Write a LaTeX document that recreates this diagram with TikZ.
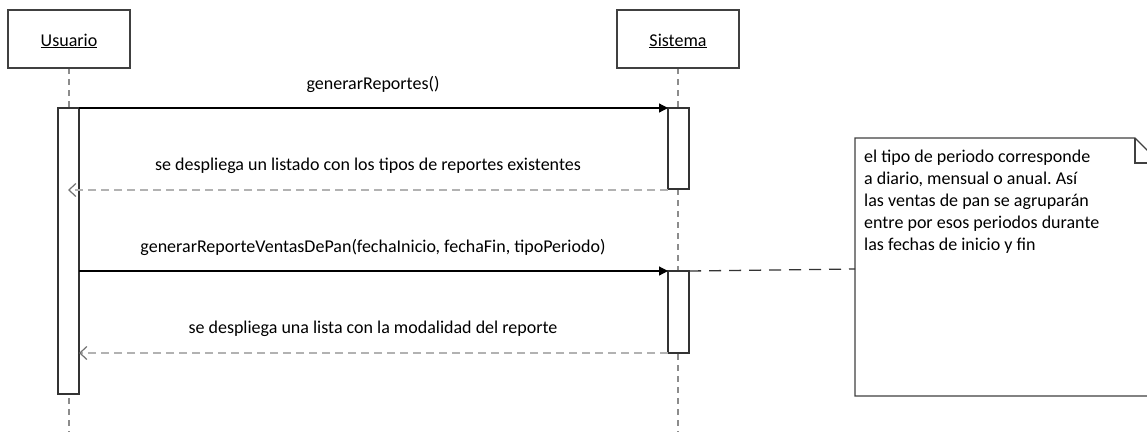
\documentclass[tikz,border=0pt]{standalone}
\usepackage{fontspec}
\setmainfont{Carlito}
\usetikzlibrary{arrows.meta}
\begin{document}
\frenchspacing
\begin{tikzpicture}[x=1pt,y=-1pt,
  every node/.style={font=\fontsize{18}{22}\selectfont, inner sep=0pt},
  obj/.style={draw=black!75, line width=1.3pt, fill=white},
  act/.style={draw=black!80, line width=1.1pt, fill=white},
  life/.style={draw=black!45, line width=1.2pt, dash pattern=on 6pt off 5pt},
  call/.style={draw=black, line width=1.2pt, -{Triangle[length=9pt,width=9pt]}},
  ret/.style={draw=black!30, line width=1.2pt, dash pattern=on 8pt off 5pt, -{Straight Barb[length=7pt,width=13pt,line width=1.2pt,black!55]}},
  notelink/.style={draw=black!80, line width=1.3pt, dash pattern=on 12pt off 8pt},
  msg/.style={anchor=base}]
\useasboundingbox (0,0) rectangle (1147,432);
\clip (0,0) rectangle (1147,432);
% lifelines
\coordinate (uTop) at (69,68);
\coordinate (uBot) at (69,432);
\coordinate (sTop) at (678,68);
\coordinate (sBot) at (678,432);
\draw[life] (uTop) -- (uBot);
\draw[life] (sTop) -- (sBot);
% objects
\path[obj] (8,10) rectangle (130,68);
\node[anchor=base] (usuario) at (69,46) {\underline{Usuario}};
\path[obj] (617,10) rectangle (739,68);
\node[anchor=base] (sistema) at (678,46) {\underline{Sistema}};
% activations
\path[act] (58,108) rectangle (79,394);
\path[act] (668,108) rectangle (689,189);
\path[act] (668,271) rectangle (689,353);
\coordinate (a1) at (79,108);
\coordinate (b1) at (668,108);
\coordinate (b2) at (668,190);
\coordinate (a2) at (68,190);
\coordinate (a3) at (79,271);
\coordinate (b3) at (668,271);
\coordinate (b4) at (668,353);
\coordinate (a4) at (79,353);
% messages
\draw[call] (a1) -- (b1);
\node[msg] (m1) at (373,89) {generarReportes()};
\draw[ret] (b2) -- (a2);
\node[msg] (m2) at (368,170) {se despliega un listado con los tipos de reportes existentes};
\draw[call] (a3) -- (b3);
\node[msg] (m3) at (373,252) {generarReporteVentasDePan(fechaInicio, fechaFin, tipoPeriodo)};
\draw[ret] (b4) -- (a4);
\node[msg] (m4) at (373,333) {se despliega una lista con la modalidad del reporte};
% note
\path[obj, line width=1.2pt] (855,138) -- (1135,138) -- (1160,163) -- (1160,396) -- (855,396) -- cycle;
\draw[draw=black!75, line width=1.2pt] (1135,138) -- (1135,163) -- (1160,163);
\node[anchor=north west, align=left] (note) at (864,150) {el tipo de periodo corresponde\\a diario, mensual o anual. Así\\las ventas de pan se agruparán\\entre por esos periodos durante\\las fechas de inicio y fin};
\coordinate (nL) at (855,269);
\coordinate (sR) at (689,271);
\draw[notelink] (sR) -- (nL);
\end{tikzpicture}
\end{document}
